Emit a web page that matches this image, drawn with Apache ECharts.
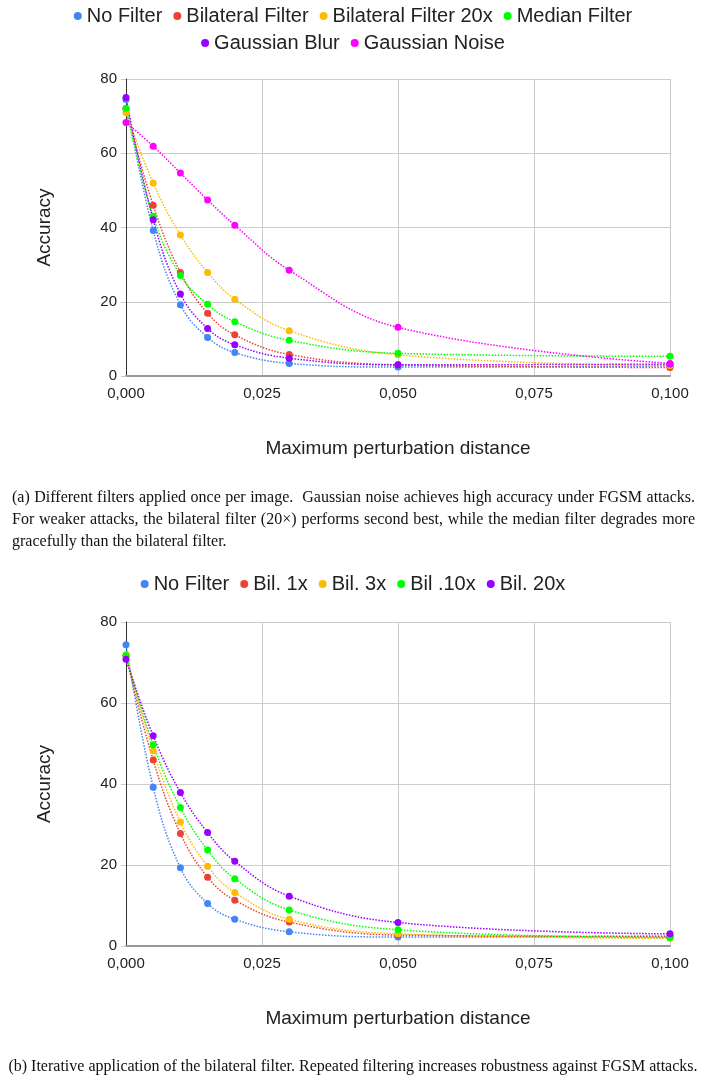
<!DOCTYPE html>
<html>
<head>
<meta charset="utf-8">
<script src="https://cdn.jsdelivr.net/npm/echarts@6/dist/echarts.min.js"></script>
<style>
  html, body { margin: 0; padding: 0; background: #fff; }
  #chart { position: absolute; left: 0; top: 0; width: 706px; height: 1080px; }
  .cap { position: absolute; font-family: "Liberation Serif", serif; font-size: 16px; line-height: 22px; color: #111; }
  #capA { left: 12px; top: 486px; width: 683px; text-align: justify; }
  #capB { left: 0; top: 1055px; width: 706px; text-align: center; white-space: nowrap; }
</style>
</head>
<body>
<div id="chart"></div>
<div class="cap" id="capA">(a) Different filters applied once per image.&nbsp; Gaussian noise achieves high accuracy under FGSM attacks. For weaker attacks, the bilateral filter (20×) performs second best, while the median filter degrades more gracefully than the bilateral filter.</div>
<div class="cap" id="capB">(b) Iterative application of the bilateral filter. Repeated filtering increases robustness against FGSM attacks.</div>
<script>
// perturbation distances (x axis)
const distances = [0, 0.005, 0.01, 0.015, 0.02, 0.03, 0.05, 0.1];

// chart (a): filters applied once
const namesA = ['No Filter', 'Bilateral Filter', 'Bilateral Filter 20x', 'Median Filter', 'Gaussian Blur', 'Gaussian Noise'];
const noFilterA   = [74.5, 39.2, 19.2, 10.4, 6.3, 3.4, 2.4, 2.7];
const bilateralA  = [72.0, 46.0, 27.9, 16.9, 11.1, 5.8, 3.0, 2.3];
const bilateral20 = [71.0, 52.0, 38.0, 27.9, 20.7, 12.2, 5.7, 2.8];
const medianA     = [72.1, 43.0, 27.1, 19.3, 14.6, 9.6, 6.1, 5.3];
const blurA       = [75.0, 42.1, 22.1, 12.8, 8.4, 4.8, 3.0, 3.2];
const noiseA      = [68.3, 61.9, 54.7, 47.4, 40.6, 28.5, 13.1, 3.4];

// chart (b): iterated bilateral filter
const namesB = ['No Filter', 'Bil. 1x', 'Bil. 3x', 'Bil .10x', 'Bil. 20x'];
const noFilterB = [74.4, 39.2, 19.3, 10.5, 6.6, 3.5, 2.2, 2.5];
const bil1x     = [71.6, 45.9, 27.8, 17.0, 11.3, 5.9, 2.7, 2.3];
const bil3x     = [72.0, 48.2, 30.6, 19.7, 13.2, 6.6, 3.0, 1.9];
const bil10x    = [71.7, 49.7, 34.2, 23.7, 16.6, 8.9, 4.0, 2.1];
const bil20x    = [70.8, 51.9, 37.9, 28.0, 20.9, 12.3, 5.8, 3.0];

const yTicks = { min: 0, max: 80, interval: 20 };

const colorsA = ['#4285f4', '#ea4335', '#fbbc04', '#00ff00', '#9900ff', '#ff00ff'];
const colorsB = ['#4285f4', '#ea4335', '#fbbc04', '#00ff00', '#9900ff'];

const font = '"Liberation Sans", Arial, sans-serif';
const textColor = '#222';

function pairs(vals) {
  return distances.map((d, i) => [d, vals[i]]);
}

function makeSeries(names, values, colors, idx) {
  return names.map((n, i) => ({
    name: n,
    type: 'line',
    xAxisIndex: idx,
    yAxisIndex: idx,
    data: pairs(values[i]),
    smooth: 0.4,
    symbol: 'circle',
    symbolSize: 7,
    itemStyle: { color: colors[i] },
    lineStyle: { color: colors[i], width: 1.5, type: 'dotted' },
    emphasis: { disabled: true },
    animation: false
  }));
}

function xAxisOf(idx) {
  return {
    type: 'value', gridIndex: idx, min: 0, max: 0.1, interval: 0.025,
    name: 'Maximum perturbation distance', nameLocation: 'middle', nameGap: 63,
    nameTextStyle: { fontFamily: font, fontSize: 19, color: textColor },
    axisLine: { show: true, lineStyle: { color: '#999', width: 2 } },
    axisTick: { show: false },
    splitLine: { show: true, lineStyle: { color: '#ccc' } },
    axisLabel: {
      fontFamily: font, fontSize: 15, color: textColor, margin: 10,
      formatter: v => v.toFixed(3).replace('.', ',')
    }
  };
}

function yAxisOf(idx) {
  return {
    type: 'value', gridIndex: idx, min: yTicks.min, max: yTicks.max, interval: yTicks.interval,
    name: 'Accuracy', nameLocation: 'middle', nameGap: 72, nameRotate: 90,
    nameTextStyle: { fontFamily: font, fontSize: 19, color: textColor },
    axisLine: { show: true, lineStyle: { color: '#333', width: 1 } },
    axisTick: { show: true, length: 5, lineStyle: { color: '#ccc' } },
    splitLine: { show: true, lineStyle: { color: '#ccc' } },
    axisLabel: { fontFamily: font, fontSize: 15, color: textColor, margin: 9 }
  };
}

const legendBase = {
  left: 'center', icon: 'circle', itemWidth: 8, itemHeight: 8, itemGap: 11,
  textStyle: { fontFamily: font, fontSize: 20, color: textColor },
  selectedMode: false
};

const chart = echarts.init(document.getElementById('chart'));
chart.setOption({
  backgroundColor: '#fff',
  animation: false,
  legend: [
    Object.assign({}, legendBase, { top: 1, data: namesA.slice(0, 4) }),
    Object.assign({}, legendBase, { top: 28, data: namesA.slice(4) }),
    Object.assign({}, legendBase, { top: 569, data: namesB })
  ],
  grid: [
    { left: 126, right: 36, top: 79, height: 297 },
    { left: 126, right: 36, top: 622, height: 324 }
  ],
  xAxis: [xAxisOf(0), xAxisOf(1)],
  yAxis: [yAxisOf(0), yAxisOf(1)],
  series: makeSeries(namesA, [noFilterA, bilateralA, bilateral20, medianA, blurA, noiseA], colorsA, 0)
    .concat(makeSeries(namesB, [noFilterB, bil1x, bil3x, bil10x, bil20x], colorsB, 1))
});
</script>
</body>
</html>
